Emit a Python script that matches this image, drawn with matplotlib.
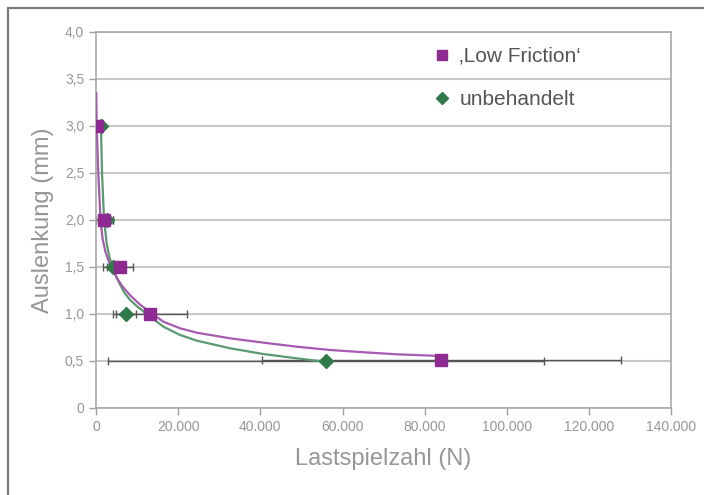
import matplotlib.pyplot as plt
from matplotlib.ticker import FuncFormatter, MultipleLocator
from matplotlib.patches import Rectangle

plt.rcParams['font.family'] = ['Liberation Sans', 'DejaVu Sans']

# Messwerte: Auslenkung (mm) ueber Lastspielzahl (N)
lf_n = [130, 2000, 5800, 13100, 84000]
lf_s = [3.0, 2.0, 1.5, 1.0, 0.51]
lf_err = [300, 2100, 3100, 9000, 43700]

ub_n = [1150, 2600, 4100, 7300, 56000]
ub_s = [3.0, 2.0, 1.5, 1.0, 0.5]
ub_err = [300, 1500, 2400, 2400, 53000]

# Verlaufskurven
lf_curve_n = [50, 170, 550, 1100, 1600, 2300, 3100, 4000, 5000, 6300, 8280, 10700, 13320,
              16390, 20450, 24520, 32630, 40740, 48870, 56980, 65090, 73220, 84000]
lf_curve_s = [3.35, 3.0, 2.5, 2.0, 1.8, 1.66, 1.56, 1.47, 1.39, 1.3, 1.2, 1.1, 1.014,
              0.918, 0.848, 0.801, 0.741, 0.695, 0.652, 0.617, 0.593, 0.571, 0.553]

ub_curve_n = [1200, 1460, 1950, 2600, 3300, 4060, 5000, 6000, 7000, 8280, 10000, 12340,
              16390, 20450, 24520, 32630, 40740, 48870, 56000]
ub_curve_s = [3.0, 2.5, 2.0, 1.75, 1.6, 1.5, 1.39, 1.3, 1.22, 1.15, 1.08, 1.0,
              0.865, 0.777, 0.716, 0.635, 0.574, 0.528, 0.49]

c_lf = '#8e2a92'
c_lf_line = '#a45bb0'
c_ub = '#2f7a48'
c_ub_line = '#5a9a70'
c_text = '#969696'

fig = plt.figure(figsize=(7.04, 4.95), dpi=100)
ax = fig.add_axes([0.1364, 0.1758, 0.817, 0.7596])

# Rahmen
fig.patches.append(Rectangle((8 / 704, -0.1), 1.2, 1.1 - 8 / 495, transform=fig.transFigure,
                             fill=False, edgecolor='#7a7a7a', linewidth=1.6))

ax.plot(ub_curve_n, ub_curve_s, color=c_ub_line, lw=1.6, zorder=3, solid_joinstyle='round')
ax.plot(lf_curve_n, lf_curve_s, color=c_lf_line, lw=1.6, zorder=3, solid_joinstyle='round')

# Fehlerbalken
ax.errorbar(ub_n, ub_s, xerr=ub_err, fmt='none', ecolor='#555555', elinewidth=1, capsize=3, capthick=1, zorder=2)
ax.errorbar(lf_n, lf_s, xerr=lf_err, fmt='none', ecolor='#555555', elinewidth=1, capsize=3, capthick=1, zorder=2)

ax.plot(lf_n, lf_s, 's', color=c_lf, markersize=8.5, ls='none', zorder=5, label='‚Low Friction‘')
ax.plot(ub_n, ub_s, 'D', color=c_ub, markersize=7, ls='none', zorder=4, label='unbehandelt')

ax.set_xlim(0, 140000)
ax.set_ylim(0, 4.0)
ax.xaxis.set_major_locator(MultipleLocator(20000))
ax.yaxis.set_major_locator(MultipleLocator(0.5))
ax.xaxis.set_major_formatter(FuncFormatter(lambda v, p: '0' if v == 0 else f'{int(v):,}'.replace(',', '.')))
ax.yaxis.set_major_formatter(FuncFormatter(lambda v, p: '0' if v == 0 else f'{v:.1f}'.replace('.', ',')))

ax.grid(axis='y', color='#c8c8c8', lw=1.5, zorder=0)
ax.set_axisbelow(True)
for sp in ax.spines.values():
    sp.set_color('#a8a8a8')
    sp.set_linewidth(1.2)
ax.tick_params(colors='#a0a0a0', labelcolor=c_text, labelsize=10, length=5, width=1)

ax.set_xlabel('Lastspielzahl (N)', fontsize=17, color=c_text, labelpad=10)
ax.set_ylabel('Auslenkung (mm)', fontsize=17, color=c_text, labelpad=8)

leg = ax.legend(loc='upper left', bbox_to_anchor=(0.548, 1.01), frameon=False, fontsize=15,
                labelspacing=1.15, handletextpad=0.2, markerscale=0.85, handlelength=1.2)
for t in leg.get_texts():
    t.set_color('#555555')

fig.savefig('out.png', dpi=100)
